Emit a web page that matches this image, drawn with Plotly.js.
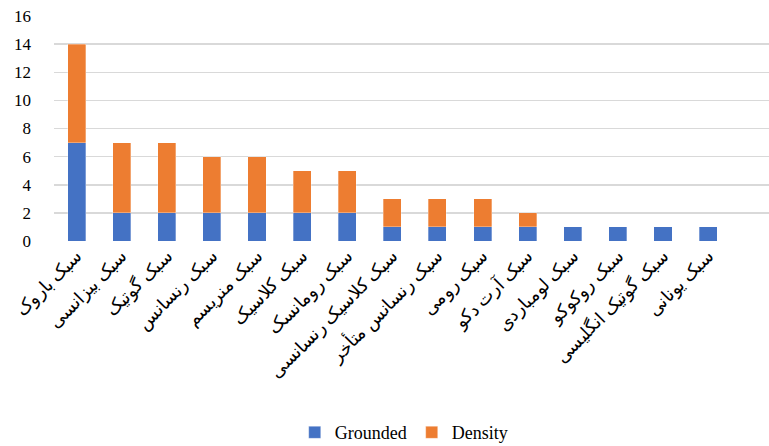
<!DOCTYPE html>
<html>
<head>
<meta charset="utf-8">
<script src="https://cdn.plot.ly/plotly-3.0.1.min.js"></script>
<style>
html,body{margin:0;padding:0;background:#fff;}
</style>
</head>
<body>
<div id="chart" style="width:769px;height:446px;"></div>
<script>
const categories = [
  "سبک باروک",
  "سبک بیزانسی",
  "سبک گوتیک",
  "سبک رنسانس",
  "سبک منریسم",
  "سبک کلاسیک",
  "سبک رومانسک",
  "سبک کلاسیک رنسانسی",
  "سبک رنسانس متأخر",
  "سبک رومی",
  "سبک آرت دکو",
  "سبک لومباردی",
  "سبک روکوکو",
  "سبک گوتیک انگلیسی",
  "سبک یونانی"
];
const grounded = [7, 2, 2, 2, 2, 2, 2, 1, 1, 1, 1, 1, 1, 1, 1];
const density  = [7, 5, 5, 4, 4, 3, 3, 2, 2, 2, 1, 0, 0, 0, 0];
const yTicks = [0, 2, 4, 6, 8, 10, 12, 14, 16];

const font = "Liberation Serif";

const traces = [
  {
    type: "bar", name: "Grounded", x: categories, y: grounded,
    marker: {color: "#4472C4", line: {color: "rgba(255,255,255,0.5)", width: 0.6}}
  },
  {
    type: "bar", name: "Density", x: categories, y: density,
    marker: {color: "#ED7D31", line: {color: "rgba(255,255,255,0.5)", width: 0.6}}
  }
];

const layout = {
  width: 769, height: 446,
  margin: {l: 54, r: 0, t: 16, b: 205},
  barmode: "stack",
  bargap: 0.6,
  paper_bgcolor: "#fff", plot_bgcolor: "#fff",
  font: {family: font, size: 16, color: "#000"},
  showlegend: true,
  legend: {
    orientation: "h", xref: "container", yref: "container",
    x: 0.525, xanchor: "center", y: 0.03, yanchor: "middle",
    font: {family: font, size: 18, color: "#000"}, traceorder: "normal"
  },
  xaxis: {
    type: "category",
    range: [-0.5, 15.35],
    tickangle: -45,
    tickfont: {family: "Times New Roman", size: 18, color: "#000"},
    showgrid: false, showline: false, zeroline: false, ticks: ""
  },
  yaxis: {
    range: [0, 16],
    tickvals: yTicks,
    ticktext: yTicks.map(String),
    tickfont: {family: font, size: 17, color: "#000"},
    showgrid: true, gridcolor: "#d9d9d9", gridwidth: 1.5,
    zeroline: false, showline: false, ticks: "",
    ticklabelstandoff: 22
  }
};

Plotly.newPlot("chart", traces, layout, {displayModeBar: false, staticPlot: true}).then(function (gd) {
  gd.querySelectorAll(".ytick text, text.legendtext").forEach(function (el) {
    el.style.setProperty("font-family", "Liberation Serif, serif", "important");
  });
});
</script>
</body>
</html>
